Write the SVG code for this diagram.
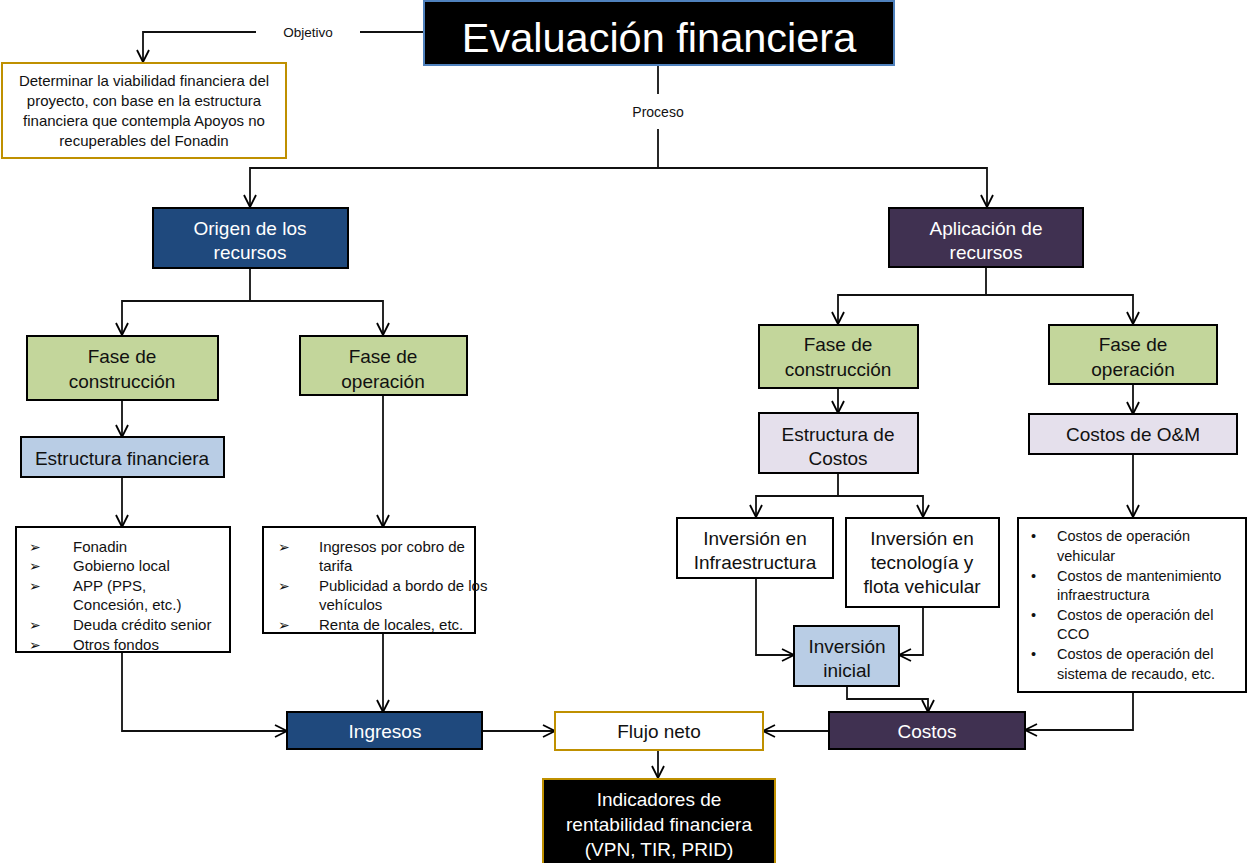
<svg xmlns="http://www.w3.org/2000/svg" width="1247" height="863" viewBox="0 0 1247 863">
<defs>
<marker id="arr" viewBox="0 0 14 14" refX="13" refY="7" markerWidth="14" markerHeight="14" markerUnits="userSpaceOnUse" orient="auto">
<path d="M1,1 L13,7 L1,13" fill="none" stroke="#000" stroke-width="1.8"/>
</marker>
<style>
.c{fill:none;stroke:#111;stroke-width:1.8}
.a{marker-end:url(#arr)}
.box{stroke:#000;stroke-width:2}
.t{font-family:"Liberation Sans",Arial,sans-serif;text-anchor:middle}
.l{font-family:"Liberation Sans",Arial,sans-serif}
.w{fill:#fff}
.k{fill:#111}
.f19{font-size:19px}
.f15{font-size:15px}
.b{font-family:"DejaVu Sans",sans-serif;font-size:14px;fill:#111}
</style>
</defs>
<rect width="1247" height="863" fill="#fff"/>

<g id="connectors">
<path class="c" d="M423,32 H360"/>
<path class="c a" d="M256,32 H143 V62"/>
<path class="c" d="M658,65 V94"/>
<path class="c" d="M658,129 V168"/>
<path class="c a" d="M658,168 H250 V207"/>
<path class="c a" d="M658,168 H987 V207"/>
<path class="c" d="M250,268 V301"/>
<path class="c a" d="M250,301 H122 V335"/>
<path class="c a" d="M250,301 H383 V335"/>
<path class="c a" d="M122,400 V437"/>
<path class="c a" d="M122,477 V527"/>
<path class="c a" d="M383,395 V527"/>
<path class="c a" d="M122,652 V731 H287"/>
<path class="c a" d="M383,633 V712"/>
<path class="c a" d="M482,731 H555"/>
<path class="c a" d="M829,731 H763"/>
<path class="c a" d="M658,750 V778"/>
<path class="c" d="M986,268 V295"/>
<path class="c a" d="M986,295 H838 V324"/>
<path class="c a" d="M986,295 H1133 V324"/>
<path class="c a" d="M838,388 V413"/>
<path class="c a" d="M1133,384 V414"/>
<path class="c" d="M838,473 V496"/>
<path class="c a" d="M838,496 H756 V517"/>
<path class="c a" d="M838,496 H923 V517"/>
<path class="c a" d="M756,578 V655 H794"/>
<path class="c a" d="M923,607 V655 H899"/>
<path class="c a" d="M847,686 V699 H928 V712"/>
<path class="c a" d="M1133,454 V517"/>
<path class="c a" d="M1133,692 V730 H1025"/>
</g>

<g id="label-objetivo"><text class="l" x="308" y="37" font-size="13.5" text-anchor="middle" fill="#111">Objetivo</text></g>
<g id="label-proceso"><text class="l" x="658" y="117" font-size="14" text-anchor="middle" fill="#111">Proceso</text></g>

<g id="title">
<rect x="424" y="1" width="470" height="64" fill="#000" stroke="#4f81bd" stroke-width="2"/>
<text class="t w" x="659" y="52" font-size="41.5">Evaluación financiera</text>
</g>

<g id="objective">
<rect x="2" y="63" width="284" height="95" fill="#fff" stroke="#bf9000" stroke-width="2"/>
<text class="t k f15" x="144" y="86">Determinar la viabilidad financiera del</text>
<text class="t k f15" x="144" y="106">proyecto, con base en la estructura</text>
<text class="t k f15" x="144" y="126">financiera que contempla Apoyos no</text>
<text class="t k f15" x="144" y="146">recuperables del Fonadin</text>
</g>

<g id="origen">
<rect class="box" x="153" y="208" width="195" height="60" fill="#1f497d"/>
<text class="t w f19" x="250" y="235">Origen de los</text>
<text class="t w f19" x="250" y="259">recursos</text>
</g>

<g id="aplicacion">
<rect class="box" x="889" y="208" width="194" height="59" fill="#403151"/>
<text class="t w f19" x="986" y="235">Aplicación de</text>
<text class="t w f19" x="986" y="259">recursos</text>
</g>

<g id="fase-construccion-origen">
<rect class="box" x="27" y="336" width="191" height="64" fill="#c3d69b"/>
<text class="t k f19" x="122" y="363">Fase de</text>
<text class="t k f19" x="122" y="388">construcción</text>
</g>

<g id="fase-operacion-origen">
<rect class="box" x="300" y="336" width="167" height="59" fill="#c3d69b"/>
<text class="t k f19" x="383" y="363">Fase de</text>
<text class="t k f19" x="383" y="388">operación</text>
</g>

<g id="estructura-financiera">
<rect class="box" x="21" y="437" width="203" height="40" fill="#b9cde5"/>
<text class="t k f19" x="122" y="465">Estructura financiera</text>
</g>

<g id="lista-fuentes">
<rect class="box" x="16" y="527" width="214" height="125" fill="#fff"/>
<text class="b" x="29" y="552">➢</text><text class="l k f15" x="73" y="552">Fonadin</text>
<text class="b" x="29" y="571">➢</text><text class="l k f15" x="73" y="571">Gobierno local</text>
<text class="b" x="29" y="591">➢</text><text class="l k f15" x="73" y="591">APP (PPS,</text>
<text class="l k f15" x="73" y="610">Concesión, etc.)</text>
<text class="b" x="29" y="630">➢</text><text class="l k f15" x="73" y="630">Deuda crédito senior</text>
<text class="b" x="29" y="650">➢</text><text class="l k f15" x="73" y="650">Otros fondos</text>
</g>

<g id="lista-ingresos">
<rect class="box" x="263" y="527" width="212" height="106" fill="#fff"/>
<text class="b" x="278" y="552">➢</text><text class="l k f15" x="319" y="552">Ingresos por cobro de</text>
<text class="l k f15" x="319" y="571">tarifa</text>
<text class="b" x="278" y="591">➢</text><text class="l k f15" x="319" y="591">Publicidad a bordo de los</text>
<text class="l k f15" x="319" y="610">vehículos</text>
<text class="b" x="278" y="630">➢</text><text class="l k f15" x="319" y="630">Renta de locales, etc.</text>
</g>

<g id="fase-construccion-aplicacion">
<rect class="box" x="759" y="325" width="159" height="63" fill="#c3d69b"/>
<text class="t k f19" x="838" y="351">Fase de</text>
<text class="t k f19" x="838" y="376">construcción</text>
</g>

<g id="fase-operacion-aplicacion">
<rect class="box" x="1049" y="325" width="168" height="59" fill="#c3d69b"/>
<text class="t k f19" x="1133" y="351">Fase de</text>
<text class="t k f19" x="1133" y="376">operación</text>
</g>

<g id="estructura-costos">
<rect class="box" x="759" y="413" width="159" height="60" fill="#e5e0ec"/>
<text class="t k f19" x="838" y="441">Estructura de</text>
<text class="t k f19" x="838" y="465">Costos</text>
</g>

<g id="costos-om">
<rect class="box" x="1029" y="414" width="208" height="40" fill="#e5e0ec"/>
<text class="t k f19" x="1133" y="441">Costos de O&amp;M</text>
</g>

<g id="inversion-infraestructura">
<rect class="box" x="677" y="518" width="156" height="60" fill="#fff"/>
<text class="t k f19" x="755" y="545">Inversión en</text>
<text class="t k f19" x="755" y="569">Infraestructura</text>
</g>

<g id="inversion-tecnologia">
<rect class="box" x="846" y="518" width="153" height="89" fill="#fff"/>
<text class="t k f19" x="922" y="545">Inversión en</text>
<text class="t k f19" x="922" y="569">tecnología y</text>
<text class="t k f19" x="922" y="593">flota vehicular</text>
</g>

<g id="inversion-inicial">
<rect class="box" x="794" y="626" width="105" height="60" fill="#b9cde5"/>
<text class="t k f19" x="847" y="653">Inversión</text>
<text class="t k f19" x="847" y="677">inicial</text>
</g>

<g id="lista-costos">
<rect class="box" x="1018" y="518" width="228" height="174" fill="#fff"/>
<g class="l k" font-size="14.5">
<text x="1031" y="541">•</text><text x="1057" y="541">Costos de operación</text>
<text x="1057" y="561">vehicular</text>
<text x="1031" y="581">•</text><text x="1057" y="581">Costos de mantenimiento</text>
<text x="1057" y="600">infraestructura</text>
<text x="1031" y="620">•</text><text x="1057" y="620">Costos de operación del</text>
<text x="1057" y="639">CCO</text>
<text x="1031" y="659">•</text><text x="1057" y="659">Costos de operación del</text>
<text x="1057" y="679">sistema de recaudo, etc.</text>
</g>
</g>

<g id="ingresos">
<rect class="box" x="287" y="712" width="195" height="37" fill="#1f497d"/>
<text class="t w f19" x="385" y="738">Ingresos</text>
</g>

<g id="flujo-neto">
<rect x="555" y="712" width="208" height="38" fill="#fff" stroke="#bf9000" stroke-width="2"/>
<text class="t k f19" x="659" y="738">Flujo neto</text>
</g>

<g id="costos">
<rect class="box" x="829" y="712" width="196" height="37" fill="#403151"/>
<text class="t w f19" x="927" y="738">Costos</text>
</g>

<g id="indicadores">
<rect x="543" y="779" width="232" height="86" fill="#000" stroke="#bf9000" stroke-width="2"/>
<text class="t w f19" x="659" y="806">Indicadores de</text>
<text class="t w f19" x="659" y="831">rentabilidad financiera</text>
<text class="t w f19" x="659" y="856">(VPN, TIR, PRID)</text>
</g>
</svg>
